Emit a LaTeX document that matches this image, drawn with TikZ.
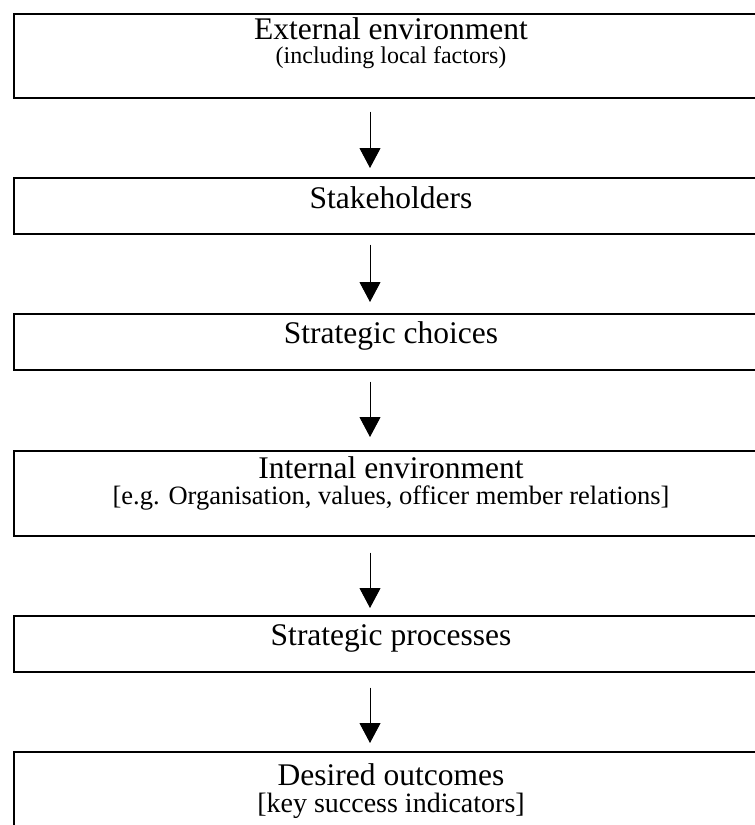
\documentclass[tikz,border=0pt]{standalone}
\usepackage{fontspec}
\setmainfont{Liberation Serif}
\usetikzlibrary{arrows.meta,calc}
\begin{document}
\begin{tikzpicture}[x=1pt,y=-1pt,
  box/.style={draw,line width=1.6pt,rectangle,inner sep=0pt,anchor=north west,minimum width=757pt},
  big/.style={anchor=base,inner sep=0pt,text depth=0pt,font=\fontsize{31.5}{36}\selectfont},
  small/.style={anchor=base,inner sep=0pt,text height=0.66em},
  arr/.style={line width=1pt,-{Triangle[width=21pt,length=20pt]}}]
\useasboundingbox (0,0) rectangle (755,825);
\clip (0,0) rectangle (755,825);
% boxes
\node[box,minimum height=84pt] (b1) at (13,13) {};
\node[box,minimum height=56pt] (b2) at (13,177) {};
\node[box,minimum height=56pt] (b3) at (13,313) {};
\node[box,minimum height=85pt] (b4) at (13,450) {};
\node[box,minimum height=56pt] (b5) at (13,615) {};
\node[box,minimum height=84pt] (b6) at (13,751) {};
% texts
\node[big] (t1) at (391,39) {External environment};
\node[small,font=\fontsize{24}{28}\selectfont] (t1b) at (391,63) {(including local factors)};
\node[big] (t2) at (391,208) {Stakeholders};
\node[big] (t3) at (391,343) {Strategic choices};
\node[big] (t4) at (391,478) {Internal environment};
\node[small,font=\fontsize{26.5}{30}\selectfont] (t4b) at (391,504) {[e.g. Organisation, values, officer member relations]};
\node[big] (t5) at (391,645) {Strategic processes};
\node[big] (t6) at (391,785) {Desired outcomes};
\node[small,font=\fontsize{28}{32}\selectfont] (t6b) at (391,812) {[key success indicators]};
% arrows
\coordinate (ax) at (370,0);
\draw[arr] ($(b1.south -| ax)+(0,13)$) -- ($(b2.north -| ax)+(0,-9)$);
\draw[arr] ($(b2.south -| ax)+(0,10)$) -- ($(b3.north -| ax)+(0,-11)$);
\draw[arr] ($(b3.south -| ax)+(0,11)$) -- ($(b4.north -| ax)+(0,-13)$);
\draw[arr] ($(b4.south -| ax)+(0,16)$) -- ($(b5.north -| ax)+(0,-7)$);
\draw[arr] ($(b5.south -| ax)+(0,15)$) -- ($(b6.north -| ax)+(0,-8)$);
\end{tikzpicture}
\end{document}
